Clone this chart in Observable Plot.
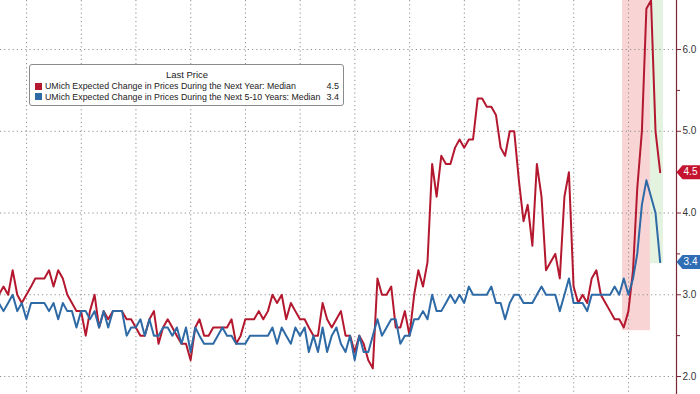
<!DOCTYPE html>
<html><head><meta charset="utf-8">
<script src="https://cdn.jsdelivr.net/npm/d3@7"></script>
<script src="https://cdn.jsdelivr.net/npm/@observablehq/plot@0.6"></script>
<style>
body{margin:0;background:#fff;}
#wrap{position:relative;width:700px;height:394px;overflow:hidden;font-family:"Liberation Sans",Arial,sans-serif;}
#legend{position:absolute;left:29px;top:64px;width:304px;height:32px;padding:4px 4px 4px 5px;border:1px solid #8a8a8a;border-radius:3px;background:#fff;color:#222;font-size:8.8px;}
#legend .ttl{text-align:center;line-height:12px;font-size:9.5px;}
#legend .row{display:flex;align-items:center;line-height:10.5px;white-space:nowrap;}
#legend .sw{width:7px;height:7px;margin-right:3px;flex:none;}
#legend .lbl{flex:1;}
#legend .val{flex:none;margin-left:4px;font-size:9px;}
</style></head><body><div id="wrap"></div>
<script>
// Monthly observations (month-end), starting June 2013
const startYear = 2013, startMonth = 6;
const expect1y = [
  3.0, 3.1, 3.0, 3.3, 3.0, 2.9, 3.0,
  3.1, 3.2, 3.2, 3.2, 3.3, 3.1, 3.3, 3.2, 3.0, 2.9, 2.8, 2.8,
  2.5, 2.8, 3.0, 2.6, 2.8, 2.7, 2.8, 2.8, 2.8, 2.7, 2.7, 2.6,
  2.5, 2.5, 2.7, 2.8, 2.4, 2.6, 2.7, 2.6, 2.5, 2.4, 2.4, 2.2,
  2.6, 2.7, 2.5, 2.5, 2.6, 2.6, 2.6, 2.6, 2.7, 2.4, 2.5, 2.7,
  2.7, 2.7, 2.8, 2.7, 2.8, 3.0, 2.9, 3.0, 2.7, 2.9, 2.8, 2.7,
  2.7, 2.6, 2.5, 2.5, 2.9, 2.7, 2.6, 2.7, 2.8, 2.5, 2.5, 2.3,
  2.5, 2.4, 2.2, 2.1, 3.2, 3.0, 3.0, 3.1, 2.6, 2.6, 2.8, 2.5,
  3.0, 3.3, 3.1, 3.4, 4.6, 4.2, 4.7, 4.6, 4.6, 4.8, 4.9, 4.8,
  4.9, 4.9, 5.4, 5.4, 5.3, 5.3, 5.2, 4.8, 4.7, 5.0, 5.0, 4.4,
  3.9, 4.1, 3.6, 4.6, 4.2, 3.3, 3.4, 3.5, 3.2, 4.2, 4.5, 3.1,
  2.9, 3.0, 2.9, 3.2, 3.3, 3.0, 2.9, 2.8, 2.7, 2.7, 2.6, 2.8,
  3.3, 4.3, 5.0, 6.5, 6.6, 5.0, 4.5
];
const expect5to10y = [
  2.9, 2.8, 2.9, 3.0, 2.8, 2.9, 2.7,
  2.9, 2.9, 2.9, 2.9, 2.8, 2.9, 2.7, 2.9, 2.8, 2.8, 2.6, 2.8,
  2.8, 2.7, 2.8, 2.6, 2.8, 2.6, 2.8, 2.8, 2.8, 2.5, 2.6, 2.6,
  2.7, 2.5, 2.7, 2.5, 2.5, 2.6, 2.6, 2.5, 2.6, 2.4, 2.6, 2.3,
  2.6, 2.5, 2.4, 2.4, 2.4, 2.5, 2.6, 2.5, 2.5, 2.4, 2.4, 2.4,
  2.5, 2.5, 2.5, 2.5, 2.5, 2.6, 2.4, 2.6, 2.5, 2.4, 2.6, 2.5,
  2.6, 2.3, 2.5, 2.3, 2.6, 2.3, 2.5, 2.6, 2.4, 2.3, 2.5, 2.2,
  2.5, 2.3, 2.3, 2.5, 2.7, 2.5, 2.6, 2.7, 2.7, 2.4, 2.5, 2.5,
  2.7, 2.7, 2.8, 2.7, 3.0, 2.8, 2.8, 2.9, 3.0, 2.9, 3.0, 2.9,
  3.1, 3.0, 3.0, 3.0, 3.0, 3.1, 2.9, 2.9, 2.7, 2.9, 3.0, 3.0,
  2.9, 2.9, 2.9, 3.0, 3.1, 3.0, 3.0, 3.0, 2.8, 3.0, 3.2, 2.9,
  2.9, 2.9, 2.8, 3.0, 3.0, 3.0, 3.0, 3.0, 3.1, 3.0, 3.2, 3.0,
  3.2, 3.5, 4.1, 4.4, 4.2, 4.0, 3.4
];
const seriesNames = [
  "UMich Expected Change in Prices During the Next Year: Median",
  "UMich Expected Change in Prices During the Next 5-10 Years: Median"
];
const seriesColors = ["#b3182f", "#2e6aa5"];
const tagColors = ["#c4122f", "#2f6db4"];
const legendTitle = "Last Price";
const yTicks = [2, 3, 4, 5, 6];
const yMinorTicks = [2.5, 3.5, 4.5, 5.5];
const xDomain = ["2013-07-11", "2025-11-17"];
const yDomain = [1.78, 6.60];
const shadeStart = ["2024-11-22", "2025-05-27"];
const shadeEnd = ["2025-05-27", "2025-08-22"];
const shadeFloor = [2.56, 3.38];
const shadeColors = ["#f8d4d4", "#e4f2e0"];

const monthEnd = i => new Date(Date.UTC(startYear, startMonth - 1 + i + 1, 0));
const s1 = expect1y.map((v, i) => ({date: monthEnd(i), value: v}));
const s2 = expect5to10y.map((v, i) => ({date: monthEnd(i), value: v}));
const shades = shadeStart.map((d, i) => ({start: new Date(d), end: new Date(shadeEnd[i]), floor: shadeFloor[i], color: shadeColors[i]}));
const xd = xDomain.map(d => new Date(d));
const years = d3.utcYears(xd[0], xd[1]);
const lasts = [expect1y, expect5to10y].map((a, i) => ({value: a[a.length - 1], color: tagColors[i]}));

const tag = {draw(ctx) {
  ctx.moveTo(-12, 0); ctx.lineTo(-6, -7); ctx.lineTo(12, -7);
  ctx.lineTo(12, 7); ctx.lineTo(-6, 7); ctx.closePath();
}};

const chart = Plot.plot({
  width: 700, height: 394,
  marginLeft: 0, marginTop: 0, marginBottom: 0, marginRight: 24,
  style: {fontFamily: "Liberation Sans, Arial, sans-serif", background: "#fff"},
  x: {type: "utc", domain: xd, axis: null},
  y: {domain: yDomain, axis: null},
  marks: [
    Plot.rect(shades, {x1: "start", x2: "end", y1: "floor", y2: yDomain[1], fill: "color"}),
    Plot.gridY(yTicks, {stroke: "#8f8f8f", strokeOpacity: 1, strokeDasharray: "1.2,3"}),
    Plot.gridX(years, {stroke: "#8f8f8f", strokeOpacity: 1, strokeDasharray: "1.2,3"}),
    Plot.lineY(s1, {x: "date", y: "value", stroke: seriesColors[0], strokeWidth: 2, clip: true}),
    Plot.lineY(s2, {x: "date", y: "value", stroke: seriesColors[1], strokeWidth: 2, clip: true}),
    Plot.ruleX([xd[1]], {stroke: "#7a2634", strokeWidth: 1.2}),
    Plot.axisY(yMinorTicks, {anchor: "right", tickSize: 3, stroke: "#7a2634", tickFormat: () => "", label: null}),
    Plot.axisY(yTicks, {anchor: "right", tickSize: 4, tickPadding: 2, stroke: "#7a2634", fill: "#333", fontSize: 10, tickFormat: d => d.toFixed(1), label: null}),
    Plot.dot(lasts, {y: "value", frameAnchor: "right", dx: 12, symbol: tag, fill: "color", stroke: null}),
    Plot.text(lasts, {y: "value", frameAnchor: "right", dx: 14, text: d => d.value.toFixed(1), fill: "white", fontSize: 10, textAnchor: "middle"})
  ]
});
const wrap = document.getElementById("wrap");
wrap.appendChild(chart);

const lg = document.createElement("div");
lg.id = "legend";
const t = document.createElement("div"); t.className = "ttl"; t.textContent = legendTitle; lg.appendChild(t);
seriesNames.forEach((n, i) => {
  const r = document.createElement("div"); r.className = "row";
  const sw = document.createElement("span"); sw.className = "sw"; sw.style.background = seriesColors[i];
  const lb = document.createElement("span"); lb.className = "lbl"; lb.textContent = n;
  const vl = document.createElement("span"); vl.className = "val"; vl.textContent = lasts[i].value.toFixed(1);
  r.append(sw, lb, vl); lg.appendChild(r);
});
wrap.appendChild(lg);
</script></body></html>
